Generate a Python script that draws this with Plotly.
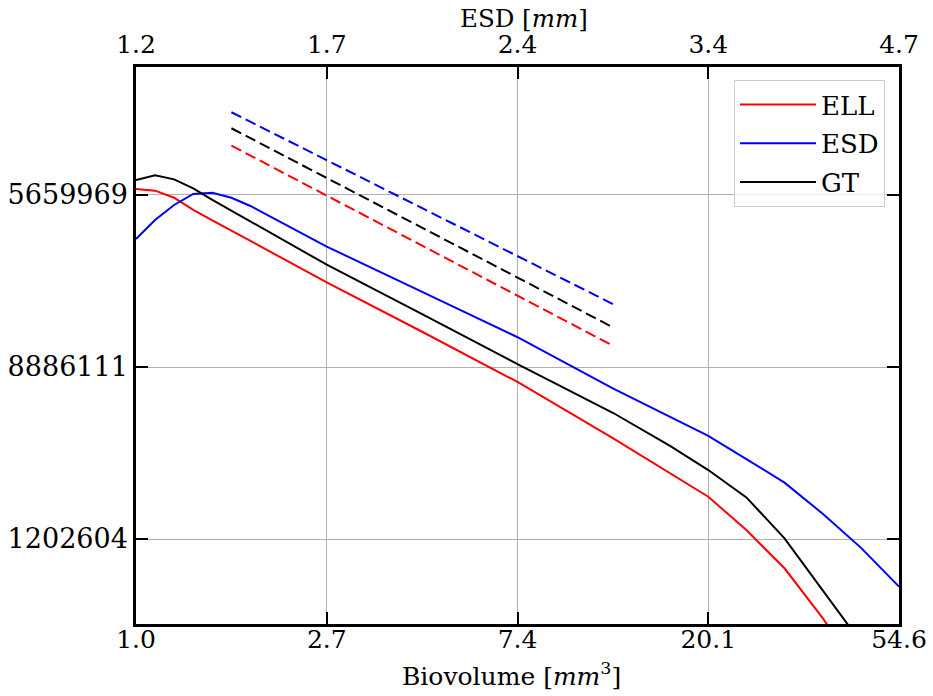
import plotly.graph_objects as go
import math

# Biovolume sample grid [mm^3]
biovolume = [1.0, 1.105, 1.221, 1.350, 1.492, 1.649, 1.822, 2.014, 2.226, 2.460,
             2.718, 4.482, 7.389, 12.18, 16.44, 20.09, 24.53, 29.96, 36.60, 44.70, 54.60]

# log-density values (plot units; tick labels below)
ell = [3.035, 3.025, 2.984, 2.913, 2.853, 2.793, 2.733, 2.673, 2.613, 2.552,
       2.492, 2.205, 1.913, 1.587, 1.384, 1.246, 1.052, 0.830, 0.540, 0.22, -0.15]
esd = [2.744, 2.855, 2.942, 3.006, 3.013, 2.984, 2.936, 2.876, 2.817, 2.759,
       2.700, 2.437, 2.173, 1.876, 1.709, 1.599, 1.465, 1.328, 1.147, 0.950, 0.723]
gt = [3.087, 3.115, 3.091, 3.039, 2.972, 2.909, 2.846, 2.784, 2.721, 2.658,
      2.595, 2.307, 2.017, 1.734, 1.541, 1.401, 1.242, 1.004, 0.698, 0.40, 0.05]

# dashed reference lines
ref_x = [1.649, 12.18]
ref_esd = [3.481, 2.366]
ref_gt = [3.388, 2.231]
ref_ell = [3.287, 2.124]

# ticks
x_tickvals = [1.0, 2.71828, 7.38906, 20.0855, 54.5982]
x_ticktext = ["1.0", "2.7", "7.4", "20.1", "54.6"]
esd_ticktext = ["1.2", "1.7", "2.4", "3.4", "4.7"]
y_tickvals = [3, 2, 1]
y_ticktext = ["5659969", "8886111", "1202604"]
y_range = [0.506, 3.744]

FONT = "DejaVu Serif"

fig = go.Figure()
for name, ys, col, grp in [("ELL", ell, "red", "a"), ("ESD", esd, "blue", "b"), ("GT", gt, "black", "c")]:
    fig.add_trace(go.Scatter(x=biovolume, y=ys, mode="lines", name=name,
                             line=dict(color=col, width=2), legendgroup=grp))
for ys, col in [(ref_esd, "blue"), (ref_gt, "black"), (ref_ell, "red")]:
    fig.add_trace(go.Scatter(x=ref_x, y=ys, mode="lines", showlegend=False,
                             line=dict(color=col, width=2, dash="11px,5px")))
# dummy trace for top axis
fig.add_trace(go.Scatter(x=[1.0, 54.5982], y=[None, None], xaxis="x2", mode="lines",
                         showlegend=False, hoverinfo="skip"))

xr = [0, math.log10(54.5982)]
axis_common = dict(ticks="inside", ticklen=12, tickwidth=2, tickcolor="black",
                   showline=True, linewidth=2.5, linecolor="black", zeroline=False,
                   automargin=False)

fig.update_layout(
    width=933, height=696,
    margin=dict(l=136, r=34, t=67, b=72),
    plot_bgcolor="white", paper_bgcolor="white",
    font=dict(family=FONT, size=25, color="black"),
    xaxis=dict(type="log", range=xr, tickmode="array", tickvals=x_tickvals, ticktext=x_ticktext,
               showgrid=True, gridcolor="#b0b0b0", gridwidth=1, ticklabelstandoff=-9,
               tickfont=dict(family=FONT, size=25, color="black"),
               **axis_common),
    xaxis2=dict(type="log", range=xr, overlaying="x", side="top", tickmode="array",
                tickvals=x_tickvals, ticktext=esd_ticktext, showgrid=False, ticklabelstandoff=1,
                tickfont=dict(family=FONT, size=25, color="black"),
                **axis_common),
    yaxis=dict(range=y_range, tickmode="array", tickvals=y_tickvals, ticktext=y_ticktext,
               showgrid=True, gridcolor="#b0b0b0", gridwidth=1, mirror="ticks",
               tickfont=dict(family=FONT, size=27, color="black"),
               **axis_common),
    legend=dict(x=0.9817, y=0.9767, xanchor="right", yanchor="top",
                bgcolor="rgba(255,255,255,0.8)", bordercolor="#cccccc", borderwidth=1,
                font=dict(family=FONT, size=26), tracegroupgap=2, itemwidth=76),
    showlegend=True,
    annotations=[
        dict(text="Biovolume [<i>mm</i><sup>3</sup>]", xref="paper", yref="paper",
             x=0.492, y=-0.0898, xanchor="center", yanchor="middle", showarrow=False,
             font=dict(family=FONT, size=25, color="black")),
        dict(text="ESD [<i>mm</i>]", xref="paper", yref="paper",
             x=0.508, y=1.0862, xanchor="center", yanchor="middle", showarrow=False,
             font=dict(family=FONT, size=24.5, color="black")),
    ],
)

# remove the browser's default 8px body margin so the figure sits at the page origin
fig.write_html("out.html", config={"displayModeBar": False},
               post_script="document.body.style.margin='0';")
